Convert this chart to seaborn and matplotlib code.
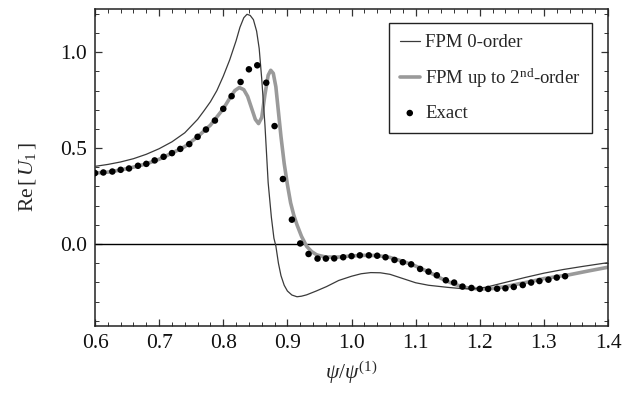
import numpy as np
import pandas as pd
import matplotlib
matplotlib.use("Agg")
import matplotlib.pyplot as plt
from matplotlib.ticker import MultipleLocator
import seaborn as sns

# FPM 0-order (thin line)
x_fpm0 = [0.60, 0.62, 0.64, 0.66, 0.68, 0.70, 0.72, 0.74, 0.76, 0.77, 0.78, 0.79,
          0.80, 0.81, 0.82, 0.826, 0.832, 0.837, 0.842, 0.847, 0.852, 0.856, 0.860,
          0.865, 0.870, 0.875, 0.879, 0.882, 0.886, 0.890, 0.895, 0.900, 0.907,
          0.915, 0.922, 0.930, 0.945, 0.961, 0.98, 1.00, 1.015, 1.03, 1.045, 1.06,
          1.08, 1.10, 1.12, 1.15, 1.17, 1.19, 1.21, 1.24, 1.27, 1.30, 1.33, 1.36, 1.40]
y_fpm0 = [0.405, 0.415, 0.428, 0.445, 0.468, 0.497, 0.533, 0.580, 0.650, 0.695, 0.742, 0.800,
          0.875, 0.960, 1.060, 1.130, 1.180, 1.198, 1.192, 1.170, 1.110, 1.020, 0.860,
          0.620, 0.320, 0.140, 0.030, -0.010, -0.100, -0.165, -0.215, -0.245, -0.266,
          -0.275, -0.272, -0.265, -0.245, -0.222, -0.190, -0.168, -0.155, -0.149, -0.150, -0.158,
          -0.180, -0.202, -0.215, -0.226, -0.232, -0.234, -0.225, -0.200, -0.175, -0.152, -0.133, -0.117, -0.097]

# FPM up to 2nd order (thick grey line)
x_fpm2 = [0.60, 0.62, 0.64, 0.66, 0.68, 0.70, 0.72, 0.74, 0.76, 0.78, 0.80, 0.81,
          0.818, 0.825, 0.832, 0.838, 0.845, 0.850, 0.855, 0.860, 0.865, 0.870, 0.874,
          0.878, 0.882, 0.886, 0.890, 0.895, 0.900, 0.905, 0.910, 0.915, 0.922, 0.930,
          0.938, 0.946, 0.96, 0.98, 1.00, 1.02, 1.04, 1.06, 1.08, 1.10, 1.12, 1.14,
          1.16, 1.18, 1.20, 1.22, 1.24, 1.26, 1.28, 1.30, 1.32, 1.34, 1.37, 1.40]
y_fpm2 = [0.370, 0.375, 0.386, 0.401, 0.418, 0.442, 0.474, 0.508, 0.559, 0.620, 0.705, 0.760,
          0.800, 0.816, 0.805, 0.770, 0.700, 0.650, 0.628, 0.660, 0.780, 0.880, 0.906,
          0.890, 0.820, 0.690, 0.560, 0.420, 0.310, 0.215, 0.150, 0.100, 0.040, -0.012,
          -0.040, -0.057, -0.068, -0.068, -0.062, -0.059, -0.060, -0.070, -0.090, -0.115, -0.145, -0.180,
          -0.210, -0.228, -0.235, -0.232, -0.222, -0.208, -0.195, -0.180, -0.170, -0.160, -0.140, -0.121]

# Exact solution (dots)
x_exact = [0.600, 0.613, 0.627, 0.640, 0.653, 0.667, 0.680, 0.693, 0.707, 0.720,
           0.733, 0.747, 0.760, 0.773, 0.787, 0.800, 0.813, 0.827, 0.840, 0.853,
           0.867, 0.880, 0.893, 0.907, 0.920, 0.933, 0.947, 0.960, 0.973, 0.987,
           1.000, 1.013, 1.027, 1.040, 1.053, 1.067, 1.080, 1.093, 1.107, 1.120,
           1.133, 1.147, 1.160, 1.173, 1.187, 1.200, 1.213, 1.227, 1.240, 1.253,
           1.267, 1.280, 1.293, 1.307, 1.320, 1.333]
y_exact = [0.370, 0.373, 0.378, 0.387, 0.394, 0.408, 0.418, 0.436, 0.455, 0.474,
           0.496, 0.521, 0.559, 0.597, 0.644, 0.705, 0.771, 0.845, 0.911, 0.932,
           0.841, 0.615, 0.339, 0.127, 0.003, -0.052, -0.076, -0.076, -0.075, -0.069,
           -0.063, -0.059, -0.059, -0.061, -0.069, -0.083, -0.095, -0.106, -0.130, -0.144,
           -0.163, -0.189, -0.201, -0.222, -0.229, -0.234, -0.234, -0.233, -0.231, -0.224,
           -0.214, -0.201, -0.193, -0.186, -0.175, -0.168]

sns.set_style("ticks")
plt.rcParams["font.family"] = ["Liberation Serif", "DejaVu Serif"]
plt.rcParams["mathtext.fontset"] = "custom"
plt.rcParams["mathtext.rm"] = "Liberation Serif"
plt.rcParams["mathtext.it"] = "Liberation Serif:italic"

fig = plt.figure(figsize=(6.23, 3.96), dpi=100)
ax = fig.add_axes([0.1525, 0.177, 0.8235, 0.8])

ax.axhline(0, color="black", lw=1.0, zorder=1)
sns.lineplot(x=x_fpm0, y=y_fpm0, ax=ax, color="#3a3a3a", lw=0.9, sort=False,
             label="FPM 0-order", zorder=3)
sns.lineplot(x=x_fpm2, y=y_fpm2, ax=ax, color="#9a9a9a", lw=2.6, sort=False,
             label="FPM up to 2$^{\\rm nd}$-order", zorder=2)
sns.scatterplot(x=x_exact, y=y_exact, ax=ax, color="black", s=22, edgecolor="none",
                label="Exact", zorder=4)

ax.set_xlim(0.6, 1.4)
ax.set_ylim(-0.427, 1.225)
ax.xaxis.set_major_locator(MultipleLocator(0.1))
ax.xaxis.set_minor_locator(MultipleLocator(0.02))
ax.yaxis.set_major_locator(MultipleLocator(0.5))
ax.yaxis.set_minor_locator(MultipleLocator(0.1))
ax.xaxis.set_major_formatter(matplotlib.ticker.FormatStrFormatter("%.1f"))
ax.yaxis.set_major_formatter(matplotlib.ticker.FormatStrFormatter("%.1f"))
ax.tick_params(which="both", direction="in", top=True, right=True, color="#333333",
               labelsize=15.5, labelcolor="#111111")
ax.tick_params(which="major", length=5, width=0.9, pad=6)
ax.tick_params(which="minor", length=3, width=0.7)
for s in ax.spines.values():
    s.set_linewidth(1.1)
    s.set_color("#222222")

ax.set_xlabel(r"$\psi/\psi^{(1)}$", fontsize=15.5)
ax.set_ylabel(r"Re$\,[\,U_1\,]$", fontsize=15.5)
ax.xaxis.set_label_coords(0.5, -0.105)
ax.yaxis.set_label_coords(-0.112, 0.47)

leg = ax.legend(loc="upper right", bbox_to_anchor=(0.969, 0.956), borderaxespad=0,
                fontsize=13.5, frameon=True, fancybox=False, handlelength=1.05,
                handletextpad=0.3, borderpad=0.6, labelspacing=0.8,
                markerscale=1.0)
leg.get_frame().set_edgecolor("#222222")
leg.get_frame().set_linewidth(1.0)
leg.get_frame().set_alpha(1)

fig.savefig("out.png", dpi=100)
